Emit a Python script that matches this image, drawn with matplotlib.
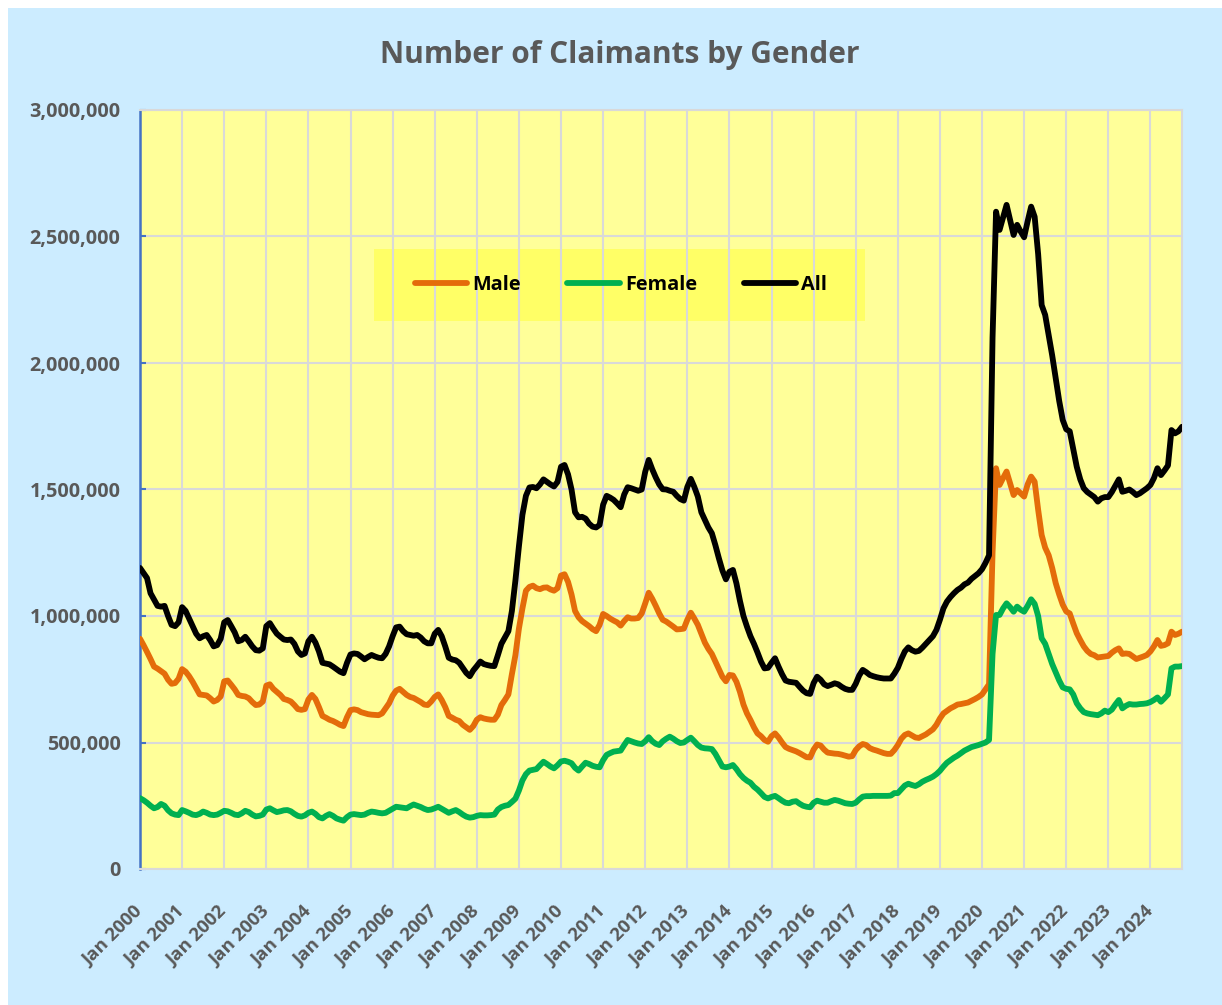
import numpy as np
import matplotlib
matplotlib.use("Agg")
import matplotlib.pyplot as plt
from matplotlib.patches import Rectangle
from matplotlib.ticker import FuncFormatter

plt.rcParams['font.family'] = ['Open Sans', 'DejaVu Sans']

# ---------------- data (thousands of claimants, monthly Jan 2000 - Oct 2024) ----------------
male = [
    910, 885, 858, 830, 800, 792, 782, 772, 748, 732, 735, 752,        # 2000
    790, 780, 762, 740, 715, 690, 688, 686, 675, 662, 668, 682,        # 2001
    742, 745, 728, 710, 688, 684, 682, 675, 660, 648, 650, 662,        # 2002
    725, 730, 712, 700, 688, 672, 668, 662, 648, 632, 629, 632,        # 2003
    670, 688, 672, 640, 605, 598, 590, 585, 578, 570, 565, 600,        # 2004
    628, 631, 628, 620, 616, 612, 610, 609, 608, 615, 635, 655,        # 2005
    685, 705, 712, 700, 688, 680, 676, 668, 660, 650, 648, 662,        # 2006
    680, 690, 668, 640, 605, 598, 590, 585, 570, 560, 550, 565,        # 2007
    590, 600, 595, 592, 590, 590, 610, 648, 668, 690, 770, 845,        # 2008
    950, 1030, 1100, 1115, 1120, 1110, 1106, 1112, 1113, 1105, 1100, 1110,  # 2009
    1160, 1165, 1135, 1085, 1020, 995, 980, 970, 960, 948, 940, 965,   # 2010
    1008, 1000, 990, 982, 975, 962, 980, 995, 990, 990, 992, 1010,     # 2011
    1050, 1092, 1068, 1040, 1010, 985, 978, 968, 958, 947, 948, 950,   # 2012
    985, 1013, 990, 965, 930, 895, 870, 850, 820, 790, 760, 742,       # 2013
    767, 765, 740, 700, 650, 615, 589, 560, 536, 525, 510, 503,        # 2014
    525, 536, 520, 500, 482, 475, 470, 465, 458, 450, 442, 441,        # 2015
    472, 492, 488, 472, 460, 458, 456, 455, 452, 448, 444, 446,        # 2016
    470, 485, 494, 490, 478, 472, 468, 463, 458, 455, 455, 470,        # 2017
    490, 515, 530, 536, 528, 520, 518, 525, 532, 542, 552, 570,        # 2018
    595, 615, 625, 635, 642, 650, 652, 655, 658, 665, 672, 680,        # 2019
    690, 710, 730, 1250, 1584, 1518, 1545, 1571, 1525, 1478, 1498, 1485,  # 2020
    1472, 1520, 1551, 1531, 1420, 1320, 1270, 1240, 1190, 1130, 1085, 1045,  # 2021
    1018, 1010, 970, 932, 905, 880, 862, 850, 845, 836, 838, 840,      # 2022
    842, 855, 865, 872, 850, 852, 850, 840, 830, 835, 840, 846,        # 2023
    860, 880, 905, 882, 885, 892, 938, 925, 930, 938,                  # 2024
]

female = [
    280, 272, 262, 250, 240, 245, 257, 250, 232, 220, 215, 213,        # 2000
    233, 228, 222, 215, 213, 218, 227, 222, 215, 213, 215, 222,        # 2001
    230, 228, 222, 215, 213, 220, 230, 225, 215, 208, 210, 215,        # 2002
    235, 240, 232, 225, 228, 232, 233, 228, 218, 210, 207, 212,        # 2003
    222, 227, 218, 205, 200, 210, 217, 210, 200, 195, 191, 205,        # 2004
    215, 217, 215, 213, 215, 222, 227, 225, 222, 220, 222, 230,        # 2005
    238, 246, 244, 242, 240, 248, 255, 250, 245, 238, 233, 235,        # 2006
    240, 246, 238, 230, 222, 228, 233, 225, 215, 207, 203, 205,        # 2007
    210, 213, 212, 212, 213, 215, 235, 245, 250, 253, 265, 278,        # 2008
    310, 350, 375, 389, 392, 395, 410, 424, 415, 405, 398, 410,        # 2009
    425, 428, 424, 418, 400, 389, 405, 420, 415, 408, 404, 402,        # 2010
    430, 451, 458, 464, 466, 468, 490, 510, 505, 500, 496, 494,        # 2011
    505, 521, 505, 495, 490, 505, 515, 523, 515, 505, 498, 500,        # 2012
    510, 519, 505, 490, 480, 477, 476, 474, 455, 430, 405, 402,        # 2013
    405, 411, 395, 375, 360, 349, 341, 325, 314, 300, 285, 279,        # 2014
    285, 289, 280, 270, 262, 260, 266, 268, 258, 250, 246, 244,        # 2015
    262, 270, 266, 262, 262, 268, 273, 270, 265, 260, 258, 257,        # 2016
    262, 275, 286, 288, 288, 289, 289, 289, 289, 289, 290, 300,        # 2017
    300, 315, 330, 337, 332, 328, 335, 345, 352, 358, 365, 375,        # 2018
    388, 405, 420, 430, 440, 448, 458, 468, 475, 482, 486, 490,        # 2019
    495, 500, 510, 850, 1004, 1004, 1030, 1050, 1035, 1017, 1037, 1025,  # 2020
    1017, 1040, 1066, 1048, 1000, 912, 890, 850, 810, 778, 745, 718,   # 2021
    712, 710, 690, 655, 635, 620, 615, 612, 610, 608, 615, 626,        # 2022
    620, 630, 650, 668, 635, 645, 652, 650, 650, 652, 653, 655,        # 2023
    660, 668, 678, 661, 675, 690, 793, 800, 800, 802,                  # 2024
]

total = [
    1190, 1170, 1150, 1090, 1065, 1040, 1037, 1040, 1000, 965, 960, 975,   # 2000
    1035, 1020, 990, 960, 930, 912, 920, 925, 905, 880, 885, 910,          # 2001
    975, 984, 960, 935, 900, 905, 918, 900, 880, 865, 863, 872,            # 2002
    960, 972, 950, 930, 918, 907, 905, 907, 890, 860, 846, 852,            # 2003
    900, 918, 895, 860, 815, 812, 809, 800, 790, 780, 774, 815,            # 2004
    848, 852, 850, 840, 829, 838, 846, 840, 835, 833, 850, 880,            # 2005
    920, 955, 958, 940, 928, 925, 922, 925, 915, 900, 892, 892,            # 2006
    930, 945, 920, 880, 835, 828, 825, 815, 795, 775, 762, 785,            # 2007
    802, 820, 810, 806, 803, 802, 845, 890, 915, 940, 1020, 1140,          # 2008
    1275, 1400, 1475, 1508, 1510, 1505, 1520, 1540, 1530, 1520, 1512, 1530,  # 2009
    1590, 1597, 1560, 1500, 1410, 1390, 1392, 1385, 1365, 1353, 1350, 1360,  # 2010
    1440, 1475, 1468, 1459, 1445, 1430, 1480, 1509, 1505, 1500, 1495, 1500,  # 2011
    1570, 1617, 1580, 1548, 1520, 1501, 1500, 1495, 1491, 1475, 1462, 1456,  # 2012
    1510, 1542, 1510, 1472, 1410, 1380, 1350, 1327, 1280, 1228, 1180, 1145,  # 2013
    1175, 1182, 1129, 1060, 1000, 958, 920, 890, 856, 820, 793, 795,         # 2014
    815, 833, 800, 770, 745, 740, 738, 736, 720, 705, 695, 692,              # 2015
    735, 760, 748, 730, 723, 728, 734, 730, 720, 712, 708, 708,              # 2016
    732, 765, 787, 778, 767, 762, 758, 755, 753, 753, 753, 772,              # 2017
    795, 830, 860, 876, 865, 859, 862, 875, 890, 905, 920, 945,              # 2018
    985, 1030, 1057, 1075, 1090, 1103, 1112, 1125, 1132, 1147, 1158, 1169,   # 2019
    1185, 1210, 1240, 2100, 2598, 2526, 2575, 2625, 2565, 2506, 2546, 2520,  # 2020
    2497, 2560, 2618, 2578, 2430, 2229, 2190, 2110, 2030, 1940, 1850, 1775,  # 2021
    1738, 1730, 1660, 1590, 1540, 1505, 1490, 1480, 1470, 1452, 1465, 1470,  # 2022
    1470, 1490, 1515, 1540, 1491, 1495, 1500, 1490, 1478, 1485, 1495, 1505,  # 2023
    1518, 1545, 1584, 1557, 1575, 1595, 1735, 1722, 1730, 1748,              # 2024
]

x_tick_labels = ["Jan 2000", "Jan 2001", "Jan 2002", "Jan 2003", "Jan 2004",
                 "Jan 2005", "Jan 2006", "Jan 2007", "Jan 2008", "Jan 2009",
                 "Jan 2010", "Jan 2011", "Jan 2012", "Jan 2013", "Jan 2014",
                 "Jan 2015", "Jan 2016", "Jan 2017", "Jan 2018", "Jan 2019",
                 "Jan 2020", "Jan 2021", "Jan 2022", "Jan 2023", "Jan 2024"]
y_ticks = [0, 500000, 1000000, 1500000, 2000000, 2500000, 3000000]
series_names = ["Male", "Female", "All"]

# ---------------- figure ----------------
W, H = 1222, 1005
fig = plt.figure(figsize=(W / 100, H / 100), dpi=100)
fig.patch.set_facecolor('white')
fig.patches.append(Rectangle((8 / W, 0), 1 - 8 / W, 1 - 8 / H, transform=fig.transFigure,
                             facecolor='#CCECFF', edgecolor='none', zorder=-10))

L, R, T, B = 140, 1182, 110, 869
ax = fig.add_axes([L / W, 1 - B / H, (R - L) / W, (B - T) / H])
ax.set_facecolor('#FFFF99')
ax.set_axisbelow(True)

idx = np.arange(len(total))
colors = ['#E46C0A', '#00B050', '#000000']
for vals, name, c in zip([male, female, total], series_names, colors):
    ax.plot(idx, np.array(vals) * 1000, color=c, lw=4.2, label=name,
            solid_joinstyle='round', solid_capstyle='round', zorder=3)

ax.set_xlim(0, len(total) - 1)
ax.set_ylim(0, 3000000)
ax.set_yticks(y_ticks)
ax.yaxis.set_major_formatter(FuncFormatter(lambda v, p: f"{int(v):,}"))
ax.set_xticks(np.arange(0, len(total), 12))
ax.set_xticklabels(x_tick_labels, rotation=45, ha='right', va='center',
                   rotation_mode='anchor')

lab_color = '#595959'
ax.tick_params(axis='x', length=0, pad=29, labelsize=13.3, labelcolor=lab_color)
ax.tick_params(axis='y', direction='in', length=4.5, width=1.5, color='#4472C4',
               pad=14, labelsize=14.3, labelcolor=lab_color)
for lab in ax.get_xticklabels() + ax.get_yticklabels():
    lab.set_fontweight('bold')

ax.grid(True, color='#D9D9D9', lw=1.5)
for s in ['top', 'right', 'bottom']:
    ax.spines[s].set_color('#D9D9D9')
    ax.spines[s].set_linewidth(1.5)
ax.spines['left'].set_color('#4472C4')
ax.spines['left'].set_linewidth(1.8)

# legend box
bx0, bx1, by0, by1 = 374, 865, 249, 321
ax.add_patch(Rectangle(((bx0 - L) / (R - L), (B - by1) / (B - T)),
                       (bx1 - bx0) / (R - L), (by1 - by0) / (B - T),
                       transform=ax.transAxes, facecolor='#FFFF66', edgecolor='none',
                       zorder=0.3))
leg = ax.legend(loc='center', bbox_to_anchor=((621 - L) / (R - L), (B - 285) / (B - T)),
                ncol=3, frameon=False, handlelength=2.65, handletextpad=0.25,
                columnspacing=2.35, prop={'weight': 'bold', 'size': 14.3})
for line in leg.get_lines():
    line.set_linewidth(4.2)
    line.set_solid_capstyle('round')

fig.text(620 / W, 1 - 55 / H, "Number of Claimants by Gender", ha='center', va='center',
         fontsize=21.5, fontweight='bold', color=lab_color)

fig.savefig("out.png", dpi=100, facecolor=fig.get_facecolor())
